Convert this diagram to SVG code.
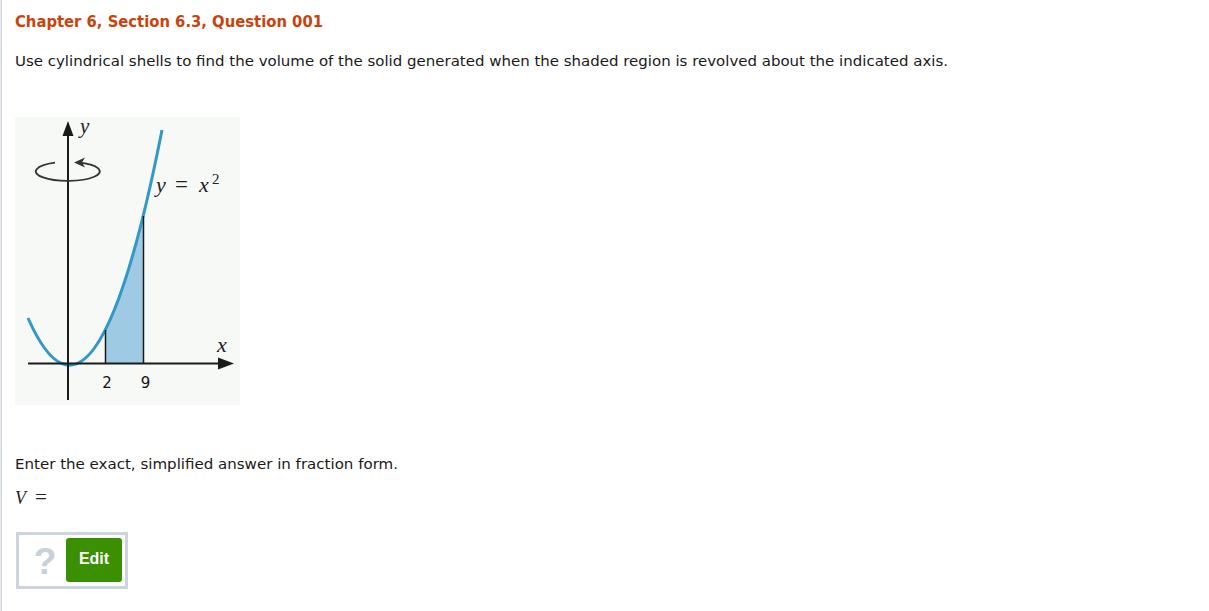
<svg xmlns="http://www.w3.org/2000/svg" width="1209" height="611" viewBox="0 0 1209 611">
<style>
.txt{font-family:"DejaVu Sans",Verdana,sans-serif;font-size:14px;fill:#1a1a1a}
.title{font-family:"DejaVu Sans",Verdana,sans-serif;font-size:15.5px;font-weight:bold;fill:#c8440c}
.math{font-family:"Liberation Serif","Times New Roman",serif;font-style:italic;fill:#222}
.up{font-family:"Liberation Serif","Times New Roman",serif;font-style:normal;fill:#222}
.num{font-family:"DejaVu Sans",Verdana,sans-serif;font-size:15px;fill:#111}
.ax{stroke:#1a1a1a;stroke-width:2;fill:none}
</style>
<rect width="1209" height="611" fill="#ffffff"/>
<rect x="0.5" y="0" width="1.5" height="611" fill="#cfd6de"/>
<g id="header">
<text class="title" x="15" y="27" textLength="308" lengthAdjust="spacingAndGlyphs">Chapter 6, Section 6.3, Question 001</text>
<text class="txt" x="15" y="66" textLength="933" lengthAdjust="spacingAndGlyphs">Use cylindrical shells to find the volume of the solid generated when the shaded region is revolved about the indicated axis.</text>
</g>
<g id="graph">
<rect x="15" y="117" width="225" height="288" fill="#f7f9f7"/>
<path id="shade" d="M105,363 L105,330.5 Q124,293.4 143,216.6 L143,363 Z" fill="#9ecbe3"/>
<path d="M28,318 Q95,470.5 162,130" fill="none" stroke="#3198c8" stroke-width="3"/>
<line x1="105.5" y1="330" x2="105.5" y2="363" stroke="#1a1a1a" stroke-width="1.5"/>
<line x1="143.5" y1="216" x2="143.5" y2="363" stroke="#1a1a1a" stroke-width="1.5"/>
<line class="ax" x1="68" y1="132" x2="68" y2="400"/>
<polygon points="68,121 62.5,136 73.5,136" fill="#1a1a1a"/>
<line class="ax" x1="28" y1="363.5" x2="222" y2="363.5"/>
<polygon points="234,363.5 218,357.5 218,369.5" fill="#1a1a1a"/>
<path d="M78,162.4 A32 9.5 0 1 1 55,162.7" fill="none" stroke="#333" stroke-width="1.8"/>
<polygon points="74,162.5 85,157.5 82,162.6 85,167.5" fill="#333"/>
<text class="math" x="80" y="133" style="font-size:21px">y</text>
<text class="math" x="217" y="352" style="font-size:22px">x</text>
<text class="math" x="156" y="192" style="font-size:22px">y</text>
<text class="up" x="175" y="192" style="font-size:23px">=</text>
<text class="math" x="199" y="192" style="font-size:22px">x</text>
<text class="up" x="212" y="184" style="font-size:15px">2</text>
<text class="num" x="107" y="388" text-anchor="middle">2</text>
<text class="num" x="145.5" y="388" text-anchor="middle">9</text>
</g>
<g id="answer">
<text class="txt" x="15" y="469" textLength="383" lengthAdjust="spacingAndGlyphs">Enter the exact, simplified answer in fraction form.</text>
<text class="math" x="15" y="504" style="font-size:18px">V</text>
<text class="up" x="35" y="504" style="font-size:21px">=</text>
</g>
<g id="answer-box">
<rect x="17.5" y="533.5" width="109" height="54" fill="#ffffff" stroke="#ccd4de" stroke-width="3"/>
<text x="45" y="574" text-anchor="middle" font-family="Liberation Sans,Arial,sans-serif" font-weight="bold" font-size="37" fill="#c9d0da">?</text>
<rect x="66" y="538" width="56" height="44" rx="3" fill="#3a9000"/>
<text x="94" y="564" text-anchor="middle" font-family="Liberation Sans,Arial,sans-serif" font-weight="bold" font-size="16" fill="#ffffff">Edit</text>
</g>
</svg>
